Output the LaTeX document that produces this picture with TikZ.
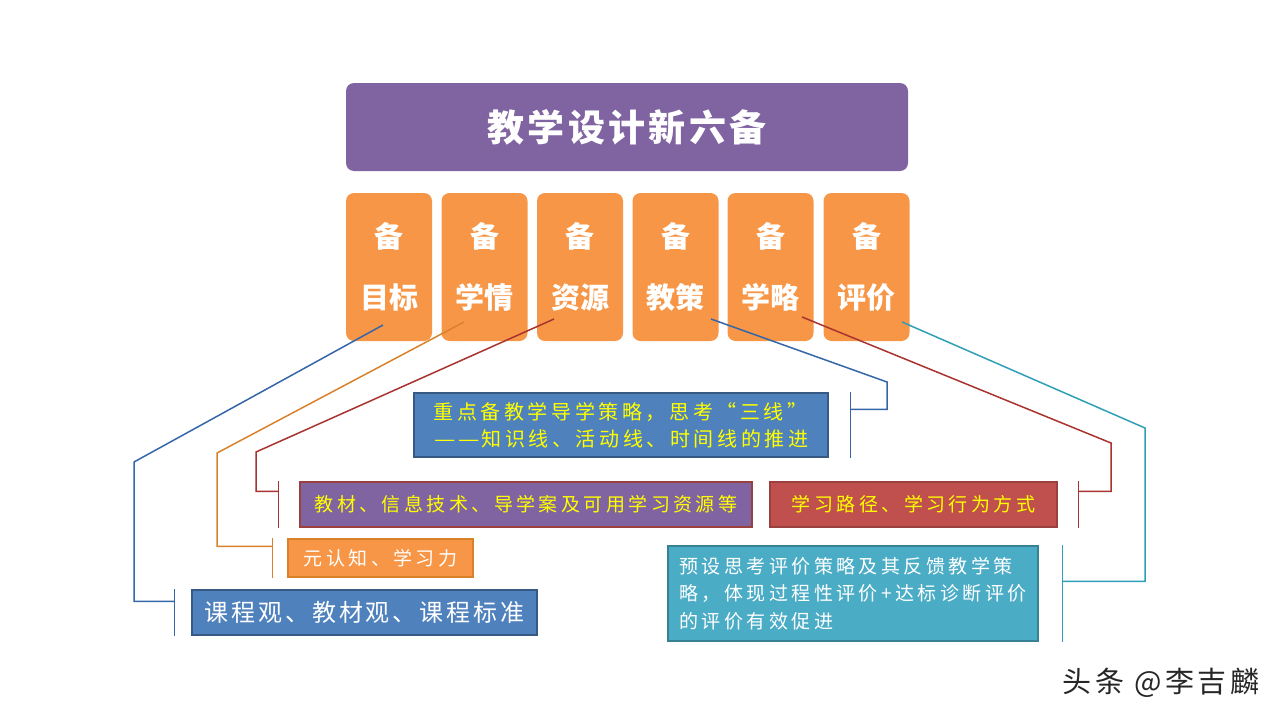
\documentclass[tikz,border=0pt]{standalone}
\usepackage{fontspec}
\usetikzlibrary{calc}
\newfontfamily\cjk{Noto Sans CJK SC}
\newfontfamily\cjksp[LetterSpace=18]{Noto Sans CJK SC}
\newfontfamily\cjkspb[LetterSpace=12]{Noto Sans CJK SC}
\newfontfamily\cjkti[LetterSpace=9]{Noto Sans CJK SC}
\newcommand{\wdash}{\makebox[24pt]{\scalebox{1.2}[1]{—}}}
\definecolor{tpurple}{HTML}{8064A2}
\definecolor{borange}{HTML}{F79646}
\definecolor{bblue}{HTML}{4F81BD}
\definecolor{bred}{HTML}{C0504D}
\definecolor{bteal}{HTML}{4BACC6}
\definecolor{lblue}{HTML}{3566A8}
\definecolor{lorange}{HTML}{D9822B}
\definecolor{lred}{HTML}{A8332F}
\definecolor{lteal}{HTML}{2E9FB6}
\definecolor{tyellow}{HTML}{FFFF00}
\begin{document}
\begin{tikzpicture}[x=1pt,y=-1pt,
  bei/.style={fill=borange, rounded corners=8pt, minimum width=86pt, minimum height=148pt,
    text=white, align=center, inner sep=0pt, font=\cjk\bfseries\fontsize{29}{61}\selectfont},
  tbox/.style={line width=1.3pt, inner sep=0pt},
  conn/.style={line width=1.5pt, line join=miter},
  wtxt/.style={text=white},
  ytxt/.style={text=tyellow}]
\useasboundingbox (0,0) rectangle (1279,720);
% title
\node[fill=tpurple, rounded corners=8pt, minimum width=562pt, minimum height=88pt,
  text=white, inner sep=0pt, font=\cjkti\bfseries\fontsize{37}{40}\selectfont] (title) at (627,127) {教学设计新六备};
% six boxes
\node[bei] (b1) at (389,267) {备\\目标};
\node[bei] (b2) at (484.5,267) {备\\学情};
\node[bei] (b3) at (580,267) {备\\资源};
\node[bei] (b4) at (675.5,267) {备\\教策};
\node[bei] (b5) at (770.5,267) {备\\学略};
\node[bei] (b6) at (866.5,267) {备\\评价};
% text boxes
\node[tbox, fill=bblue, draw=bblue!70!black, minimum width=345pt, minimum height=45pt,
  wtxt, font=\cjkspb\fontsize{24}{30}\selectfont] (k1) at (364.5,612.5) {课程观、教材观、课程标准};
\node[tbox, fill=borange, draw=lorange, minimum width=185pt, minimum height=38pt,
  wtxt, font=\cjksp\fontsize{19}{24}\selectfont] (k2) at (380.5,558) {元认知、学习力};
\node[tbox, fill=tpurple, draw=bred!80!black, minimum width=452pt, minimum height=45pt,
  ytxt, font=\cjksp\fontsize{19}{24}\selectfont] (k3) at (526,504.5) {教材、信息技术、导学案及可用学习资源等};
\node[tbox, fill=bblue, draw=bblue!70!black, minimum width=414pt, minimum height=64pt,
  ytxt, align=left, font=\cjksp\fontsize{20}{27}\selectfont] (k4) at (621,425) {重点备教学导学策略，思考“三线”\\\wdash\wdash 知识线、活动线、时间线的推进};
\node[tbox, fill=bred, draw=bred!80!black, minimum width=287pt, minimum height=45pt,
  ytxt, font=\cjksp\fontsize{19}{24}\selectfont] (k5) at (913.5,504.5) {学习路径、学习行为方式};
\node[tbox, fill=bteal, draw=bteal!75!black, minimum width=370pt, minimum height=95pt,
  wtxt, align=left, font=\cjksp\fontsize{19}{27.5}\selectfont] (k6) at (853,593.5) {预设思考评价策略及其反馈教学策\\略，体现过程性评价+达标诊断评价\\的评价有效促进};
% watermark
\node[text=black!85, inner sep=0pt, font=\cjkspb\fontsize{29}{32}\selectfont] (wm) at (1161,683) {头条 @李吉麟};
% connector points
\coordinate (s1) at (383,325); \coordinate (e1) at (134,462);
\coordinate (s2) at (464,322); \coordinate (e2) at (217,453);
\coordinate (s3) at (554,319); \coordinate (e3) at (256,452);
\coordinate (s4) at (711,319); \coordinate (e4) at (887,382);
\coordinate (s5) at (802,317); \coordinate (e5) at (1111,443);
\coordinate (s6) at (902,322); \coordinate (e6) at (1145,428);
% bars
\coordinate (r1t) at ($(k1.north west)+(-17,0)$); \coordinate (r1b) at ($(k1.south west)+(-17,0)$);
\coordinate (r2t) at ($(k2.north west)+(-15,0)$); \coordinate (r2b) at ($(k2.south west)+(-15,0)$);
\coordinate (r3t) at ($(k3.north west)+(-21,0)$); \coordinate (r3b) at ($(k3.south west)+(-21,0)$);
\coordinate (r4t) at ($(k4.north east)+(22,0)$); \coordinate (r4b) at ($(k4.south east)+(22,0)$);
\coordinate (r5t) at ($(k5.north east)+(21,0)$); \coordinate (r5b) at ($(k5.south east)+(21,0)$);
\coordinate (r6t) at ($(k6.north east)+(24,0)$); \coordinate (r6b) at ($(k6.south east)+(24,0)$);
\coordinate (j1) at ($(r1t)+(0,12)$);
\coordinate (j2) at ($(r2t)+(0,8)$);
\coordinate (j3) at ($(r3t)+(0,10)$);
\coordinate (j4) at ($(r4t)+(0,17)$);
\coordinate (j5) at ($(r5t)+(0,10)$);
\coordinate (j6) at ($(r6t)+(0,36)$);
% connectors
\draw[conn, lblue] (s1) -- (e1) |- (j1);
\draw[conn, lblue] (r1t) -- (r1b);
\draw[conn, lorange] (s2) -- (e2) |- (j2);
\draw[conn, lorange] (r2t) -- (r2b);
\draw[conn, lred] (s3) -- (e3) |- (j3);
\draw[conn, lred] (r3t) -- (r3b);
\draw[conn, lblue] (s4) -- (e4) |- (j4);
\draw[conn, lblue] (r4t) -- (r4b);
\draw[conn, lred] (s5) -- (e5) |- (j5);
\draw[conn, lred] (r5t) -- (r5b);
\draw[conn, lteal] (s6) -- (e6) |- (j6);
\draw[conn, lteal] (r6t) -- (r6b);
\end{tikzpicture}
\end{document}
